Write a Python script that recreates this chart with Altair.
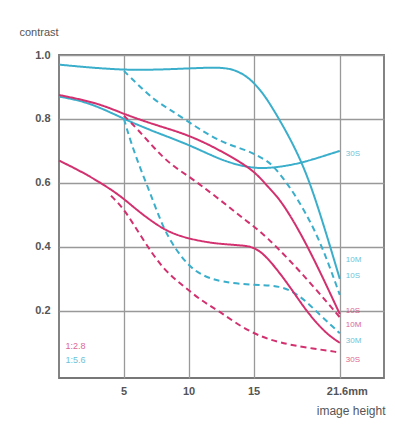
import altair as alt
import pandas as pd

# ---- data ----
# f/5.6 (cyan)
x_c10s = [0, 2, 5, 7.5, 10, 12.3, 13.5, 14.6, 15.5, 16.2, 17.5, 18.5, 19.4, 20.5, 21.6]
y_c10s = [0.97, 0.962, 0.953, 0.954, 0.958, 0.962, 0.955, 0.93, 0.89, 0.85, 0.76, 0.68, 0.59, 0.45, 0.30]
x_c10m = [5, 6, 7.3, 8.5, 10, 11.5, 13, 14.6, 15.5, 16.4, 17.7, 18.5, 20, 21.6]
y_c10m = [0.95, 0.91, 0.86, 0.83, 0.79, 0.75, 0.72, 0.70, 0.68, 0.66, 0.59, 0.54, 0.43, 0.25]
x_c30s = [0, 2, 4, 5, 7.3, 10, 12.5, 14.6, 16.2, 18.5, 20.8, 21.6]
y_c30s = [0.87, 0.855, 0.82, 0.80, 0.76, 0.72, 0.67, 0.647, 0.645, 0.66, 0.69, 0.70]
x_c30m = [5, 5.5, 6.3, 7.1, 8, 9, 10, 11, 12.5, 15, 17, 18.5, 20, 21.6]
y_c30m = [0.80, 0.73, 0.64, 0.56, 0.46, 0.39, 0.34, 0.31, 0.29, 0.28, 0.28, 0.25, 0.19, 0.13]
# f/2.8 (magenta)
x_m10s = [0, 3, 5, 7.5, 10, 12.5, 15, 16, 17, 18.5, 20, 21.6]
y_m10s = [0.875, 0.85, 0.815, 0.78, 0.75, 0.70, 0.64, 0.59, 0.55, 0.45, 0.33, 0.19]
x_m10m = [5, 6, 7.3, 8.5, 10, 11, 12.3, 13.5, 14.8, 16, 17.7, 19.5, 21.6]
y_m10m = [0.81, 0.77, 0.71, 0.66, 0.62, 0.59, 0.55, 0.51, 0.47, 0.43, 0.36, 0.28, 0.18]
x_m30s = [0, 2, 4, 5, 6, 7.3, 8.5, 10, 12, 14, 15, 16, 17.7, 19, 20.5, 21.6]
y_m30s = [0.67, 0.63, 0.58, 0.55, 0.515, 0.475, 0.445, 0.425, 0.41, 0.405, 0.40, 0.37, 0.28, 0.20, 0.13, 0.10]
x_m30m = [4, 5, 6.5, 8, 9.5, 11, 12.3, 14, 15.5, 17, 19, 21.6]
y_m30m = [0.56, 0.52, 0.42, 0.33, 0.28, 0.23, 0.20, 0.15, 0.12, 0.10, 0.085, 0.07]

apertures = ["1:2.8", "1:5.6"]
ap_colors = ["#d2306e", "#3aaecb"]

x_ticks = [5, 10, 15]
x_tick_labels = ["5", "10", "15"]
x_last_tick = 21.6
x_last_label = "21.6mm"
y_ticks = [0.2, 0.4, 0.6, 0.8, 1.0]

end_labels = ["30S", "10M", "10S", "10S", "10M", "30M", "30S"]
end_label_y = [0.69, 0.36, 0.31, 0.20, 0.155, 0.105, 0.045]
end_label_ap = ["1:5.6", "1:5.6", "1:5.6", "1:2.8", "1:2.8", "1:5.6", "1:2.8"]

legend_y = [0.09, 0.045]

# ---- build tables ----
series = [
    ("c10s", "1:5.6", "S", x_c10s, y_c10s),
    ("c10m", "1:5.6", "M", x_c10m, y_c10m),
    ("c30s", "1:5.6", "S", x_c30s, y_c30s),
    ("c30m", "1:5.6", "M", x_c30m, y_c30m),
    ("m10s", "1:2.8", "S", x_m10s, y_m10s),
    ("m10m", "1:2.8", "M", x_m10m, y_m10m),
    ("m30s", "1:2.8", "S", x_m30s, y_m30s),
    ("m30m", "1:2.8", "M", x_m30m, y_m30m),
]
rows = []
for name, ap, kind, xs, ys in series:
    for i, (a, b) in enumerate(zip(xs, ys)):
        rows.append({"series": name, "ap": ap, "kind": kind, "x": a, "y": b, "i": i})
df = pd.DataFrame(rows)

lab_df = pd.DataFrame({"x": [21.6] * len(end_labels), "y": end_label_y,
                       "t": end_labels, "ap": end_label_ap})
leg_df = pd.DataFrame({"x": [0.5, 0.5], "y": legend_y, "t": apertures, "ap": apertures})
xt_df = pd.DataFrame({"x": x_ticks, "t": x_tick_labels})
xl_df = pd.DataFrame({"x": [x_last_tick], "t": [x_last_label]})

xscale = alt.Scale(domain=[0, 25], nice=False, zero=False)
yscale = alt.Scale(domain=[-0.01, 1.0], nice=False, zero=False)
color = alt.Color("ap:N", scale=alt.Scale(domain=apertures, range=ap_colors), legend=None)

lines = alt.Chart(df).mark_line(strokeWidth=2, interpolate="basis").encode(
    x=alt.X("x:Q", scale=xscale,
            axis=alt.Axis(values=x_ticks + [x_last_tick], grid=True, labels=False, ticks=False,
                          domain=False, title="image height", titleX=326, titleY=27,
                          titleAlign="right", titleFontSize=12, titleFontWeight="normal",
                          titleColor="#555", titleFont="Liberation Sans")),
    y=alt.Y("y:Q", scale=yscale,
            axis=alt.Axis(values=y_ticks, grid=True, ticks=False, domain=False,
                          labelExpr="format(datum.value, '.1f')", labelPadding=9,
                          labelFontSize=11, labelFontWeight="bold", labelColor="#555",
                          labelFont="Liberation Sans",
                          title="contrast", titleAngle=0, titleX=-40, titleY=-18,
                          titleAlign="left", titleFontSize=11, titleFontWeight="normal",
                          titleColor="#555", titleFont="Liberation Sans")),
    color=color,
    strokeDash=alt.StrokeDash("kind:N", scale=alt.Scale(domain=["S", "M"], range=[[1, 0], [6, 4]]),
                              legend=None),
    detail="series:N",
    order="i:Q",
)

end_text = alt.Chart(lab_df).mark_text(align="left", baseline="middle", dx=6, fontSize=8,
                                       font="Liberation Sans", opacity=0.75).encode(
    x=alt.X("x:Q", scale=xscale), y=alt.Y("y:Q", scale=yscale), text="t:N", color=color)

leg_text = alt.Chart(leg_df).mark_text(align="left", baseline="middle", fontSize=9,
                                       font="Liberation Sans", opacity=0.75).encode(
    x=alt.X("x:Q", scale=xscale), y=alt.Y("y:Q", scale=yscale), text="t:N", color=color)

xt_text = alt.Chart(xt_df).mark_text(align="center", baseline="top", fontSize=11,
                                     fontWeight="bold", color="#555", font="Liberation Sans").encode(
    x=alt.X("x:Q", scale=xscale), y=alt.value(331), text="t:N")

xl_text = alt.Chart(xl_df).mark_text(align="left", baseline="top", dx=-13, fontSize=11,
                                     fontWeight="bold", color="#555", font="Liberation Sans").encode(
    x=alt.X("x:Q", scale=xscale), y=alt.value(331), text="t:N")

chart = alt.layer(lines, end_text, leg_text, xt_text, xl_text).properties(
    width=325, height=323,
    autosize=alt.AutoSizeParams(type="none"),
    padding={"left": 59, "top": 55, "right": 11, "bottom": 53},
    background="white",
).configure_view(
    stroke="#777", strokeWidth=1.8
).configure_axis(
    gridColor="#999", gridWidth=1.3, gridOpacity=1
)

chart.save("out.html", embed_options={"renderer": "svg", "actions": False})
